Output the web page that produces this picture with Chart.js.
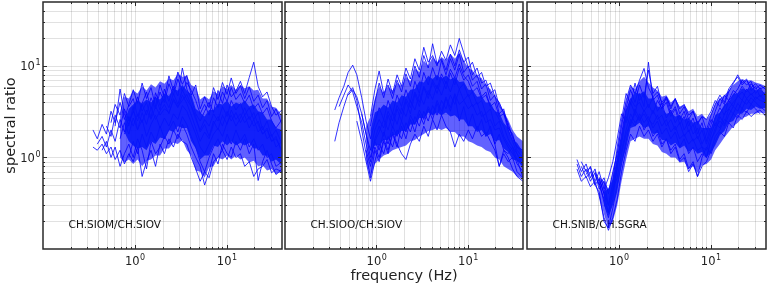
<!DOCTYPE html>
<html>
<head>
<meta charset="utf-8">
<script src="https://cdn.jsdelivr.net/npm/chart.js@4.4.1/dist/chart.umd.min.js"></script>
<style>
  html, body { margin: 0; padding: 0; background: #fff; }
  #wrap { position: relative; width: 768px; height: 287px; overflow: hidden; }
  canvas { position: absolute; top: 0; }
</style>
</head>
<body>
<div id="wrap">
  <canvas id="c1" width="284" height="287" style="left:0px"></canvas>
  <canvas id="c2" width="241" height="287" style="left:284px"></canvas>
  <canvas id="c3" width="243" height="287" style="left:525px"></canvas>
</div>
<script>
// frequency samples (Hz), shared by all three panels
const freq = [0.35, 0.39, 0.44, 0.49, 0.55, 0.61, 0.69, 0.77, 0.86, 0.96,
  1.07, 1.2, 1.34, 1.5, 1.68, 1.88, 2.1, 2.35, 2.63, 2.94,
  3.29, 3.68, 4.11, 4.6, 5.14, 5.75, 6.43, 7.19, 8.04, 8.99,
  10.1, 11.2, 12.6, 14.1, 15.7, 17.6, 19.7, 22.0, 24.6, 27.5,
  30.8, 34.4, 40];

const stationLabels = ['CH.SIOM/CH.SIOV', 'CH.SIOO/CH.SIOV', 'CH.SNIB/CH.SGRA'];

// grid / tick positions
const gridX = [0.2, 0.3, 0.4, 0.5, 0.6, 0.7, 0.8, 0.9, 1, 2, 3, 4, 5, 6, 7, 8, 9, 10, 20, 30];
const gridY = [0.2, 0.3, 0.4, 0.5, 0.6, 0.7, 0.8, 0.9, 1, 2, 3, 4, 5, 6, 7, 8, 9, 10, 20, 30, 40];
const majorTicks = [1, 10];
const majorExp = ['0', '1'];

// ---- panel 1: CH.SIOM/CH.SIOV ----
// outer spread of the curve bundle
const siomOutLo = [null, null, null, null, null, null, 1.0, 0.88, 0.95, 0.85,
  0.95, 0.8, 0.92, 0.95, 1.05, 1.05, 1.25, 1.25, 1.45, 1.4,
  1.55, 1.2, 1.05, 0.72, 0.7, 0.6, 0.78, 0.8, 1.0, 0.95,
  1.05, 0.95, 1.05, 0.95, 1.0, 0.88, 0.92, 0.8, 0.82, 0.72,
  0.75, 0.66, 0.7];
const siomOutHi = [null, null, null, null, null, null, 2.8, 4.6, 4.4, 5.4,
  5.0, 6.0, 5.4, 6.3, 5.8, 6.8, 6.4, 7.3, 7.0, 8.2,
  7.6, 7.8, 6.2, 5.8, 4.3, 4.7, 4.3, 5.3, 4.9, 6.0,
  5.6, 6.2, 5.5, 6.2, 5.7, 6.0, 5.4, 5.5, 4.4, 4.4,
  3.6, 3.5, 2.9];
// dense core of the bundle
const siomLo = [null, null, null, null, null, null, null, 1.9, 1.5, 1.35,
  1.25, 1.3, 1.2, 1.5, 1.4, 1.65, 1.6, 2.0, 1.9, 2.2,
  2.1, 2.1, 1.5, 1.25, 0.95, 1.05, 1.05, 1.35, 1.3, 1.5,
  1.35, 1.5, 1.35, 1.45, 1.35, 1.45, 1.25, 1.25, 1.05, 1.05,
  0.9, 0.95, 0.82];
const siomHi = [null, null, null, null, null, null, null, 2.5, 3.4, 3.8,
  4.2, 3.9, 4.3, 4.0, 4.5, 4.3, 5.0, 4.7, 5.6, 5.4,
  6.2, 5.4, 4.9, 3.4, 3.1, 2.8, 3.3, 3.3, 3.9, 3.8,
  4.2, 3.6, 4.0, 3.8, 4.2, 3.6, 3.8, 3.2, 3.1, 2.6,
  2.6, 2.1, 2.0];
const siomCurves = [
  [2.0, 1.6, 2.3, 1.8, 3.2, 2.4, 4.0, 2.6, 3.8, 5.5, 3.9, 6.5, 4.4, 5.8, 3.6, 6.2, 4.5, 7.8, 5.4, 8.6, 6.3, 7.9, 4.8, 6.2, 3.4, 4.6, 3.5, 5.8, 4.3, 6.6, 4.9, 7.4, 5.0, 6.1, 4.4, 5.9, 4.1, 4.8, 3.5, 4.2, 2.8, 3.4, 2.3],
  [1.3, 1.2, 1.4, 1.1, 1.3, 0.95, 1.2, 0.85, 1.1, 0.9, 1.3, 0.62, 0.9, 1.2, 0.8, 1.4, 1.1, 1.6, 1.3, 1.8, 1.5, 1.4, 1.0, 0.75, 0.55, 0.7, 0.6, 0.9, 1.0, 1.2, 0.95, 1.3, 1.0, 1.1, 0.8, 0.9, 0.62, 0.75, 0.8, 0.95, 0.68, 0.75, 0.7],
  [null, 1.4, 1.7, 1.3, 2.0, 1.5, 2.6, 1.9, 2.8, 2.2, 3.0, 2.4, 3.3, 2.6, 3.6, 2.9, 3.4, 3.1, 4.2, 3.5, 4.8, 3.9, 2.9, 2.1, 1.5, 1.9, 1.6, 2.3, 2.8, 2.2, 3.2, 2.5, 3.1, 2.4, 2.9, 2.1, 2.6, 1.9, 2.2, 1.6, 1.8, 1.3, 1.5],
  [null, null, null, null, 2.4, 3.8, 2.9, 5.0, 3.6, 4.4, 2.8, 3.9, 5.2, 3.4, 4.6, 3.3, 5.6, 4.1, 6.0, 4.7, 9.5, 5.6, 4.3, 3.0, 2.5, 3.2, 4.0, 3.1, 5.4, 3.9, 6.2, 4.6, 5.3, 6.8, 5.0, 7.5, 11.0, 6.0, 4.6, 5.2, 3.6, 2.9, 3.3],
  [null, null, 1.2, 1.5, 1.0, 1.3, 0.8, 1.1, 1.4, 1.0, 1.6, 1.2, 0.75, 1.5, 1.1, 1.3, 1.7, 1.4, 2.0, 1.6, 2.3, 1.8, 1.3, 1.0, 0.8, 0.5, 0.7, 1.1, 0.85, 1.4, 1.1, 1.0, 1.5, 1.2, 1.6, 1.1, 1.4, 0.56, 0.9, 1.2, 0.85, 0.65, 0.75],
  [null, null, null, 2.2, 1.7, 2.9, 2.1, 3.4, 2.5, 3.1, 4.6, 3.2, 4.0, 2.7, 5.1, 3.7, 4.4, 3.5, 5.0, 3.8, 5.5, 4.3, 3.6, 2.6, 2.0, 2.6, 2.2, 3.0, 2.5, 3.6, 2.8, 4.2, 3.3, 3.9, 2.9, 3.5, 2.6, 3.1, 2.0, 2.5, 1.7, 2.0, 1.4],
  [null, null, null, null, null, 2.2, 5.6, 3.0, 2.2, 3.6, 2.0, 2.6, 1.7, 2.3, 2.9, 2.1, 2.7, 2.2, 3.0, 2.6, 3.7, 3.2, 2.4, 1.8, 1.3, 1.1, 1.4, 1.8, 2.1, 1.7, 2.4, 2.9, 2.2, 2.7, 3.5, 2.6, 3.1, 2.3, 1.8, 2.1, 1.5, 1.7, 1.1],
  [null, null, null, null, null, null, null, 1.8, 2.4, 3.2, 2.5, 3.8, 2.9, 4.5, 3.4, 5.2, 4.0, 6.4, 4.8, 7.2, 5.3, 6.6, 5.4, 4.2, 3.0, 3.8, 2.9, 4.5, 3.5, 5.2, 4.1, 5.8, 4.3, 5.0, 3.9, 4.8, 3.4, 3.9, 3.0, 3.5, 2.5, 2.1, 2.6],
  [null, null, null, null, null, null, null, null, 1.0, 1.5, 1.1, 1.8, 1.3, 1.9, 1.5, 2.2, 1.6, 2.0, 2.5, 1.9, 2.8, 2.3, 1.7, 1.3, 0.9, 0.7, 1.0, 1.3, 1.6, 1.2, 1.8, 1.4, 2.0, 1.5, 1.8, 1.3, 1.6, 1.2, 1.4, 1.0, 1.1, 0.8, 0.9],
  [null, null, null, null, null, null, 1.6, 2.4, 1.8, 2.7, 2.0, 3.1, 2.3, 3.5, 2.6, 3.2, 3.8, 3.0, 4.4, 3.6, 4.2, 4.9, 3.7, 2.8, 1.9, 2.3, 1.7, 2.5, 2.0, 2.9, 2.3, 3.3, 2.6, 3.0, 2.4, 2.8, 2.2, 2.5, 1.8, 2.0, 1.5, 1.6, 1.2]
];

// ---- panel 2: CH.SIOO/CH.SIOV ----
const siooOutLo = [null, null, null, null, null, null, null, 0.9, 0.62, 0.85,
  0.95, 1.05, 1.1, 1.2, 1.25, 1.3, 1.35, 1.5, 1.55, 1.7,
  1.8, 1.95, 2.0, 2.1, 2.0, 2.1, 1.9, 1.9, 1.7, 1.7,
  1.5, 1.45, 1.35, 1.3, 1.2, 1.15, 1.0, 0.95, 0.8, 0.75,
  0.7, 0.62, 0.58];
const siooOutHi = [null, null, null, null, null, null, null, 2.2, 2.8, 4.4,
  6.0, 5.0, 6.0, 5.4, 6.6, 6.0, 7.6, 6.8, 9.4, 8.6,
  11.5, 10.0, 12.5, 11.0, 12.5, 11.5, 13.5, 12.0, 14.0, 11.5,
  9.5, 9.0, 7.6, 7.4, 6.0, 5.6, 4.6, 4.0, 3.2, 2.6,
  2.0, 1.7, 1.5];
const siooLo = [null, null, null, null, null, null, null, null, 1.1, 1.35,
  1.35, 1.55, 1.55, 1.75, 1.75, 1.95, 1.95, 2.3, 2.3, 2.7,
  2.7, 3.1, 2.9, 3.1, 2.9, 3.1, 2.8, 2.9, 2.6, 2.6,
  2.2, 2.2, 1.9, 2.0, 1.7, 1.8, 1.5, 1.55, 1.25, 1.15,
  0.95, 0.92, 0.78];
const siooHi = [null, null, null, null, null, null, null, null, 2.0, 3.1,
  3.3, 3.8, 3.5, 4.2, 4.0, 4.8, 4.6, 5.5, 5.6, 6.8,
  6.6, 7.8, 7.2, 8.0, 7.2, 7.9, 7.1, 7.6, 6.7, 6.8,
  5.5, 5.5, 4.6, 4.7, 4.0, 4.0, 3.2, 3.1, 2.4, 2.1,
  1.55, 1.45, 1.15];
const siooCurves = [
  [3.3, 4.5, 6.0, 8.5, 10.2, 8.0, 4.5, 2.5, 1.6, 2.4, 3.5, 2.6, 4.2, 3.0, 4.8, 3.6, 5.5, 4.0, 6.8, 5.0, 8.5, 6.2, 9.6, 7.0, 11.5, 8.0, 12.0, 9.0, 13.5, 8.5, 10.0, 7.0, 8.0, 5.6, 6.4, 4.2, 4.8, 3.0, 3.4, 2.1, 1.8, 1.2, 1.0],
  [1.5, 2.4, 3.6, 5.0, 5.8, 4.2, 2.0, 1.1, 0.6, 1.2, 0.9, 1.5, 1.1, 1.8, 1.3, 2.2, 1.6, 2.6, 1.9, 3.0, 2.3, 3.4, 2.6, 3.9, 2.9, 4.4, 3.2, 4.8, 2.5, 3.6, 2.2, 3.0, 2.0, 2.6, 1.7, 2.2, 1.4, 1.8, 1.2, 1.0, 0.75, 0.62, 0.55],
  [null, 3.6, 4.8, 6.2, 5.2, 3.6, 2.4, 1.4, 0.9, 1.6, 2.2, 1.7, 2.9, 2.1, 3.4, 2.5, 4.1, 3.0, 4.9, 3.6, 5.8, 4.4, 6.6, 5.0, 7.5, 5.6, 8.4, 6.2, 9.5, 7.0, 8.0, 6.0, 6.8, 4.6, 5.2, 3.6, 4.0, 2.8, 3.0, 2.0, 1.5, 1.1, 0.9],
  [null, null, null, null, null, null, null, null, 2.2, 4.0, 6.5, 4.5, 7.2, 5.0, 8.0, 6.0, 9.5, 7.2, 12.0, 9.0, 16.0, 11.0, 13.0, 10.0, 14.5, 11.5, 17.0, 13.0, 20.0, 14.0, 9.5, 11.0, 7.5, 8.5, 6.0, 6.5, 4.6, 4.0, 3.0, 2.4, 1.6, 1.3, 1.1],
  [null, null, null, null, null, null, null, 1.2, 0.8, 1.3, 1.0, 1.6, 1.2, 1.9, 1.4, 1.1, 0.95, 1.4, 1.8, 1.5, 2.2, 1.7, 2.6, 2.0, 2.9, 2.2, 1.9, 1.3, 1.8, 1.5, 2.0, 1.6, 2.2, 1.7, 1.9, 1.5, 1.2, 0.8, 1.1, 0.9, 1.0, 0.7, 0.6],
  [null, null, null, null, null, null, 3.0, 1.8, 1.2, 2.0, 2.6, 2.1, 3.2, 2.5, 3.7, 3.0, 4.4, 3.5, 5.2, 4.0, 6.0, 4.8, 7.0, 5.6, 8.2, 6.4, 9.2, 7.4, 10.5, 7.8, 6.8, 5.2, 5.8, 4.4, 4.8, 3.6, 3.2, 2.6, 2.2, 1.6, 1.3, 1.1, 0.8],
  [null, null, null, null, null, null, null, null, 2.8, 5.5, 8.8, 5.0, 6.2, 4.4, 7.0, 5.2, 8.2, 6.0, 10.0, 7.5, 13.0, 9.5, 17.5, 10.5, 12.0, 9.0, 13.5, 10.0, 15.0, 11.0, 12.5, 8.0, 9.5, 6.5, 7.0, 5.0, 5.5, 3.6, 3.2, 2.2, 1.7, 1.3, 1.2],
  [null, null, null, null, null, null, null, null, null, 1.5, 1.2, 1.9, 1.4, 2.2, 1.7, 2.5, 1.9, 2.9, 2.3, 3.3, 2.6, 3.6, 2.9, 4.2, 3.2, 4.6, 3.5, 5.0, 3.8, 4.2, 3.4, 3.8, 2.9, 3.2, 2.4, 2.6, 2.0, 2.1, 1.6, 1.3, 1.1, 0.95, 0.85],
  [null, null, null, 4.8, 5.5, 4.6, 3.0, 1.8, 1.0, 1.5, 1.9, 2.6, 2.0, 3.1, 2.3, 3.5, 2.8, 4.2, 3.3, 4.9, 3.8, 5.4, 4.3, 6.2, 4.8, 6.8, 5.2, 7.2, 5.6, 6.4, 4.6, 5.2, 3.8, 4.2, 3.0, 3.4, 2.2, 2.5, 1.7, 1.4, 1.2, 0.85, 0.7],
  [null, null, null, null, null, 2.5, 1.5, 0.9, 0.55, 0.9, 1.4, 1.1, 1.7, 1.3, 2.0, 1.6, 2.4, 1.9, 2.8, 2.2, 3.2, 2.5, 3.7, 2.9, 4.2, 3.4, 4.8, 3.8, 5.6, 4.2, 4.9, 3.6, 4.0, 2.8, 3.0, 2.0, 1.4, 0.8, 1.2, 1.1, 1.3, 0.95, 0.6]
];

// ---- panel 3: CH.SNIB/CH.SGRA ----
const snibOutLo = [null, null, null, null, null, 0.38, 0.24, 0.17, 0.2, 0.3,
  0.55, 0.95, 1.5, 1.6, 1.7, 1.6, 1.6, 1.4, 1.35, 1.15,
  1.1, 1.0, 1.0, 0.88, 0.9, 0.75, 0.8, 0.68, 0.82, 0.85,
  0.95, 1.2, 1.4, 1.65, 1.9, 2.2, 2.4, 2.7, 2.8, 3.0,
  3.0, 3.1, 3.0];
const snibOutHi = [null, null, null, null, null, 0.62, 0.55, 0.45, 0.7, 1.2,
  2.6, 4.2, 6.0, 5.6, 6.8, 7.6, 6.6, 5.8, 5.4, 4.6,
  4.8, 4.0, 4.4, 3.6, 3.8, 3.2, 3.4, 2.8, 3.0, 2.6,
  3.0, 3.9, 4.4, 4.8, 5.4, 6.2, 6.8, 7.2, 6.9, 7.0,
  6.6, 6.4, 6.0];
const snibLo = [null, null, null, null, null, null, 0.3, 0.23, 0.3, 0.42,
  0.85, 1.25, 2.1, 2.2, 2.4, 2.1, 2.2, 1.8, 1.85, 1.55,
  1.55, 1.35, 1.45, 1.25, 1.35, 1.15, 1.25, 1.1, 1.15, 1.0,
  1.15, 1.35, 1.75, 1.95, 2.4, 2.5, 3.0, 3.0, 3.4, 3.3,
  3.6, 3.4, 3.5];
const snibHi = [null, null, null, null, null, null, 0.42, 0.46, 0.58, 1.05,
  1.7, 3.3, 4.3, 5.2, 4.9, 5.3, 4.4, 4.4, 3.6, 3.5,
  3.0, 3.1, 2.8, 2.9, 2.6, 2.7, 2.4, 2.5, 2.1, 2.1,
  2.1, 2.9, 3.1, 3.8, 4.0, 5.0, 5.0, 5.7, 5.4, 5.9,
  5.4, 5.6, 4.9];
const snibCurves = [
  [0.95, 0.7, 0.85, 0.6, 0.75, 0.5, 0.35, 0.25, 0.4, 0.9, 1.8, 3.5, 5.5, 4.0, 6.2, 4.5, 9.0, 5.0, 6.0, 3.8, 4.4, 3.0, 3.6, 2.6, 3.2, 2.2, 2.7, 1.8, 2.4, 1.5, 2.3, 3.2, 4.4, 3.8, 5.2, 6.4, 8.0, 6.5, 7.2, 5.4, 6.0, 4.6, 5.2],
  [0.75, 0.55, 0.62, 0.48, 0.55, 0.38, 0.22, 0.16, 0.22, 0.35, 0.7, 1.2, 1.8, 1.5, 2.2, 1.7, 2.0, 1.5, 1.8, 1.3, 1.6, 1.2, 1.4, 0.95, 1.1, 0.75, 0.9, 0.62, 0.8, 0.9, 1.2, 1.7, 2.0, 2.6, 2.4, 3.0, 2.7, 3.4, 3.1, 3.8, 3.4, 3.0, null],
  [null, 0.8, 0.6, 0.7, 0.5, 0.58, 0.4, 0.3, 0.55, 1.3, 2.6, 5.0, 3.8, 6.5, 4.2, 5.0, 3.5, 4.6, 3.2, 3.9, 2.7, 3.3, 2.4, 2.9, 2.0, 2.5, 1.8, 2.1, 1.4, 1.8, 2.6, 2.2, 3.0, 3.6, 4.2, 3.6, 4.8, 4.2, 5.6, 4.8, 5.4, null, null],
  [null, null, 0.65, 0.8, 0.55, 0.7, 0.45, 0.6, 0.9, 1.6, 3.0, 2.4, 4.0, 3.0, 5.0, 3.6, 11.0, 4.2, 4.8, 3.4, 4.0, 2.8, 3.4, 2.3, 2.8, 1.9, 2.3, 1.6, 2.0, 1.4, 2.0, 2.7, 3.5, 2.9, 4.2, 4.8, 5.6, 7.0, 6.2, 6.8, 5.0, 5.8, 4.6],
  [null, 0.9, 0.7, 0.78, 0.5, 0.42, 0.2, 0.17, 0.28, 0.5, 0.85, 1.5, 2.6, 2.2, 3.0, 2.4, 2.8, 2.1, 2.5, 1.8, 2.1, 1.6, 1.9, 1.3, 1.6, 1.1, 1.3, 0.9, 1.1, 1.0, 1.5, 2.1, 2.5, 2.2, 2.9, 3.6, 3.2, 4.2, 3.8, 4.5, 4.0, 3.6, 3.2],
  [null, null, null, null, 0.65, 0.5, 0.6, 0.4, 0.7, 1.1, 2.2, 4.2, 6.2, 5.0, 7.0, 9.4, 5.8, 4.6, 5.2, 4.0, 4.6, 3.4, 4.4, 3.0, 3.6, 2.6, 3.2, 2.3, 2.8, 2.0, 2.9, 3.8, 4.8, 4.0, 5.6, 6.6, 7.6, 6.2, 7.0, 5.8, 6.4, 5.6, 6.0],
  [null, null, null, null, 0.7, 0.55, 0.32, 0.22, 0.35, 0.8, 1.4, 2.8, 2.2, 3.4, 2.6, 3.0, 2.4, 3.3, 2.6, 2.9, 2.2, 2.6, 2.0, 2.4, 1.7, 2.0, 1.5, 1.7, 1.3, 1.2, 1.8, 2.4, 2.1, 3.0, 3.4, 4.0, 4.6, 5.2, 4.4, 5.0, 4.3, 4.8, 4.1],
  [null, null, null, null, null, null, 0.45, 0.3, 0.5, 0.9, 1.2, 2.0, 3.0, 2.4, 2.8, 2.0, 2.4, 1.7, 2.0, 1.4, 1.6, 1.1, 1.3, 0.9, 1.0, 0.7, 0.85, 0.62, 1.0, 1.3, 1.1, 1.5, 1.9, 1.7, 2.4, 2.1, 2.9, 2.6, 3.2, 2.8, 3.1, 3.3, 2.8],
  [null, null, null, null, null, 0.6, 0.4, 0.25, 0.45, 0.75, 1.6, 3.2, 4.4, 3.6, 4.0, 3.2, 3.8, 3.0, 4.2, 3.4, 4.6, 3.6, 4.4, 3.4, 3.8, 2.9, 3.2, 2.4, 2.8, 2.6, 3.2, 4.2, 3.6, 4.8, 4.2, 5.4, 4.9, 6.0, 5.2, 6.4, 5.6, 6.2, 5.5],
  [0.85, 0.62, 0.75, 0.55, 0.68, 0.45, 0.55, 0.3, 0.45, 0.6, 1.1, 1.8, 2.4, 3.0, 2.5, 3.3, 2.6, 2.3, 2.9, 2.2, 2.6, 1.9, 2.2, 1.6, 1.8, 1.4, 1.6, 1.2, 1.3, 1.0, 1.6, 1.9, 2.8, 2.3, 3.4, 3.0, 3.9, 3.4, 4.4, 3.8, 4.6, 4.2, 4.0]
];

const FONT = '"DejaVu Sans", Arial, sans-serif';
const lineColor = 'rgba(0,0,255,0.8)';
const outerColor = 'rgba(0,0,255,0.62)';
const bandColor = 'rgba(20,60,240,0.88)';
const labelAt = [0.19, 0.18];

function drawPow(ctx, exp, x, y, align) {
  ctx.font = '11.5px ' + FONT;
  const wb = ctx.measureText('10').width;
  ctx.font = '8px ' + FONT;
  const we = ctx.measureText(exp).width;
  const left = align === 'center' ? x - (wb + we) / 2 : x - (wb + we);
  ctx.textAlign = 'left';
  ctx.textBaseline = 'alphabetic';
  ctx.font = '11.5px ' + FONT;
  ctx.fillText('10', left, y);
  ctx.font = '8px ' + FONT;
  ctx.fillText(exp, left + wb + 0.5, y - 5);
}

const decor = {
  id: 'decor',
  beforeDatasetsDraw(chart, args, opts) {
    const { ctx, chartArea: a, scales: { x, y } } = chart;
    ctx.save();
    ctx.strokeStyle = 'rgba(0,0,0,0.15)';
    ctx.lineWidth = 0.8;
    ctx.beginPath();
    gridX.forEach(v => {
      const px = Math.round(x.getPixelForValue(v)) + 0.5;
      ctx.moveTo(px, a.top); ctx.lineTo(px, a.bottom);
    });
    gridY.forEach(v => {
      const py = Math.round(y.getPixelForValue(v)) + 0.5;
      ctx.moveTo(a.left, py); ctx.lineTo(a.right, py);
    });
    ctx.stroke();
    ctx.fillStyle = '#111';
    ctx.font = '10.5px ' + FONT;
    ctx.textAlign = 'left';
    ctx.textBaseline = 'middle';
    ctx.fillText(opts.label, x.getPixelForValue(labelAt[0]), y.getPixelForValue(labelAt[1]));
    ctx.restore();
  },
  afterDraw(chart, args, opts) {
    const { ctx, chartArea: a, scales: { x, y } } = chart;
    ctx.save();
    ctx.strokeStyle = '#2a2a2a';
    ctx.lineWidth = 1;
    ctx.beginPath();
    gridX.forEach(v => {
      const px = Math.round(x.getPixelForValue(v)) + 0.5;
      const len = majorTicks.includes(v) ? 4 : 2;
      ctx.moveTo(px, a.bottom); ctx.lineTo(px, a.bottom - len);
      ctx.moveTo(px, a.top); ctx.lineTo(px, a.top + len);
    });
    gridY.forEach(v => {
      const py = Math.round(y.getPixelForValue(v)) + 0.5;
      const len = majorTicks.includes(v) ? 4 : 2;
      ctx.moveTo(a.left, py); ctx.lineTo(a.left + len, py);
      ctx.moveTo(a.right, py); ctx.lineTo(a.right - len, py);
    });
    ctx.stroke();
    ctx.lineWidth = 1.5;
    ctx.strokeRect(a.left, a.top, a.right - a.left, a.bottom - a.top);

    ctx.fillStyle = '#222';
    majorTicks.forEach((v, i) => {
      drawPow(ctx, majorExp[i], x.getPixelForValue(v), a.bottom + 16, 'center');
      if (opts.yTicks) drawPow(ctx, majorExp[i], a.left - 3, y.getPixelForValue(v) + 4.5, 'right');
    });
    if (opts.yTitle) {
      ctx.save();
      ctx.translate(11, (a.top + a.bottom) / 2);
      ctx.rotate(-Math.PI / 2);
      ctx.font = '14.5px ' + FONT;
      ctx.textAlign = 'center';
      ctx.textBaseline = 'middle';
      ctx.fillText('spectral ratio', 0, 0);
      ctx.restore();
    }
    if (opts.xTitle) {
      ctx.font = '14.5px ' + FONT;
      ctx.textAlign = 'center';
      ctx.textBaseline = 'alphabetic';
      ctx.fillText('frequency (Hz)', opts.xTitle, 280);
    }
    ctx.restore();
  }
};

function pts(arr) {
  return freq.map((f, i) => ({ x: f, y: arr[i] }));
}

function edge(arr) {
  return { data: pts(arr), borderColor: 'rgba(0,0,0,0)', borderWidth: 0, pointRadius: 0, fill: false };
}

function makePanel(id, outLo, outHi, lo, hi, curves, pad, deco) {
  const datasets = [
    edge(outLo),
    Object.assign(edge(outHi), { fill: '-1', backgroundColor: outerColor }),
    edge(lo),
    Object.assign(edge(hi), { fill: '-1', backgroundColor: bandColor })
  ];
  curves.forEach(c => datasets.push({
    data: pts(c), borderColor: lineColor, borderWidth: 1, pointRadius: 0, fill: false
  }));
  new Chart(document.getElementById(id), {
    type: 'line',
    data: { datasets },
    options: {
      responsive: false,
      animation: false,
      devicePixelRatio: 1,
      layout: { padding: { left: pad[0], right: pad[1], top: 2, bottom: 38 } },
      elements: { line: { tension: 0 } },
      scales: {
        x: { type: 'logarithmic', min: 0.1, max: 40, display: false },
        y: { type: 'logarithmic', min: 0.1, max: 50, display: false }
      },
      plugins: { legend: { display: false }, tooltip: { enabled: false }, decor: deco }
    },
    plugins: [decor]
  });
}

makePanel('c1', siomOutLo, siomOutHi, siomLo, siomHi, siomCurves, [43, 2], { label: stationLabels[0], yTicks: true, yTitle: true });
makePanel('c2', siooOutLo, siooOutHi, siooLo, siooHi, siooCurves, [1, 2], { label: stationLabels[1], xTitle: 120 });
makePanel('c3', snibOutLo, snibOutHi, snibLo, snibHi, snibCurves, [2, 2], { label: stationLabels[2] });
</script>
</body>
</html>
